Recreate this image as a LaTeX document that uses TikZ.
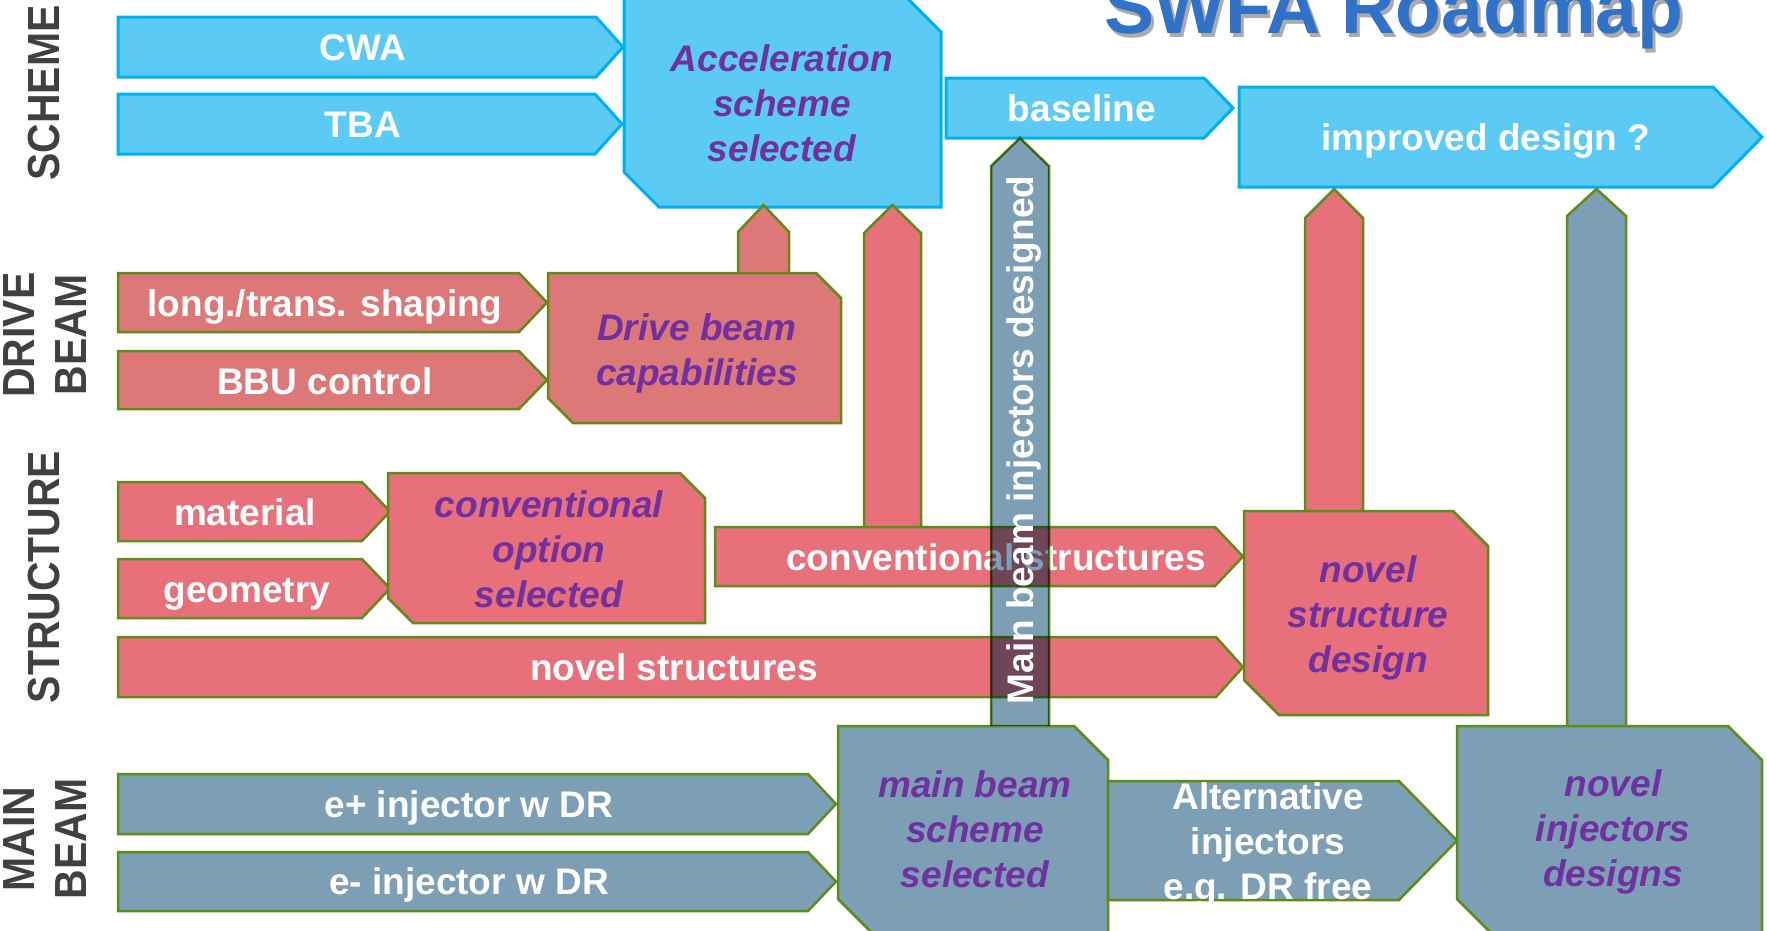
\documentclass[tikz,border=0pt]{standalone}
\usepackage{fontspec}
\setmainfont{Liberation Sans}
\newfontfamily\sidefont[FakeStretch=0.91]{Liberation Sans}
\usetikzlibrary{positioning}
\definecolor{schemefill}{HTML}{5BCBF5}
\definecolor{schemeline}{HTML}{00B0F0}
\definecolor{drivefill}{HTML}{DC7978}
\definecolor{structfill}{HTML}{E8707A}
\definecolor{beamfill}{HTML}{7C9FB6}
\definecolor{edge}{HTML}{5F8C14}
\definecolor{goal}{HTML}{7030A0}
\definecolor{side}{HTML}{404040}
\definecolor{titleblue}{HTML}{2F72C8}

\tikzset{
  schemebox/.style={fill=schemefill, draw=schemeline, line width=3pt},
  drivebox/.style={fill=drivefill, draw=edge, line width=2.5pt},
  structbox/.style={fill=structfill, draw=edge, line width=2.5pt},
  beambox/.style={fill=beamfill, draw=edge, line width=2.5pt},
  task/.style={text=white, font=\bfseries\fontsize{37}{45}\selectfont,
    inner sep=0pt, text height=26pt, text depth=0pt},
  taskml/.style={text=white, font=\bfseries\fontsize{37}{45}\selectfont,
    inner sep=0pt, align=center},
  goaltext/.style={text=goal, font=\bfseries\itshape\fontsize{37}{45}\selectfont,
    inner sep=0pt, align=center},
  sidelabel/.style={text=side, font=\sidefont\bfseries\fontsize{45}{52}\selectfont,
    inner sep=0pt, align=center, rotate=90}
}

% chevron: style, left, top, body right, bottom, tip
\newcommand{\chevron}[6]{\draw[#1] (#2,#3) -- (#4,#3) -- (#6,{(#3+#5)/2}) -- (#4,#5) -- (#2,#5) -- cycle;}
% box with snipped corners: style, left, top, right, bottom, snip
\newcommand{\snipbox}[6]{\draw[#1] (#2,#3) -- ({#4-#6},#3) -- (#4,{#3+#6}) -- (#4,#5) -- ({#2+#6},#5) -- (#2,{#5-#6}) -- cycle;}
% upward block arrow: style, left, right, tip, shoulder, bottom
\newcommand{\upbar}[6]{\draw[#1] (#2,#6) -- (#2,#5) -- ({(#2+#3)/2},#4) -- (#3,#5) -- (#3,#6);}

\begin{document}
\begin{tikzpicture}[x=1pt, y=-1pt]

  \useasboundingbox (0,0) rectangle (1767,930);
  \clip (0,0) rectangle (1767,930);

  % title
  \node[anchor=base west, inner sep=0pt, text=black!55, text opacity=0.6,
    font=\bfseries\fontsize{75}{80}\selectfont] (titleshade) at (1107,37) {SWFA Roadmap};
  \node[anchor=base west, inner sep=0pt, text=titleblue,
    font=\bfseries\fontsize{75}{80}\selectfont] (title) at (1104,33) {SWFA Roadmap};

  \node[sidelabel] (scheme) at (44,93) {SCHEME};
  \node[sidelabel] (drive) at (45,335) {DRIVE\\BEAM};
  \node[sidelabel] (structure) at (44,577) {STRUCTURE};
  \node[sidelabel] (mainbeam) at (45,839) {MAIN\\BEAM};

  % scheme row
  \chevron{schemebox}{118}{17}{596}{77}{623}
  \chevron{schemebox}{118}{94}{595}{154}{622}
  \snipbox{schemebox}{624}{-3}{941}{207}{35}
  \chevron{schemebox}{946}{78}{1204}{138}{1233}
  \chevron{schemebox}{1239}{87}{1713}{187}{1762}

  % feeds into the scheme
  \upbar{drivebox}{738}{789}{205}{232}{273}
  \upbar{structbox}{864}{921}{205}{233}{527}
  \upbar{structbox}{1305}{1363}{189}{218}{511}
  \upbar{beambox}{1567}{1626}{189}{216}{726}

  % drive beam row
  \chevron{drivebox}{118}{273}{519}{332}{547}
  \chevron{drivebox}{118}{351}{519}{409}{547}
  \snipbox{drivebox}{548}{273}{841}{423}{25}

  % structure row
  \chevron{structbox}{118}{482}{362}{541}{390}
  \chevron{structbox}{118}{559}{362}{618}{390}
  \snipbox{structbox}{388}{473}{705}{623}{25}
  \chevron{structbox}{715}{527}{1215}{586}{1243}
  \chevron{structbox}{118}{637}{1216}{697}{1243}
  \snipbox{structbox}{1244}{511}{1488}{715}{35}

  % main beam row
  \chevron{beambox}{118}{774}{808}{834}{836}
  \chevron{beambox}{118}{852}{808}{911}{836}
  \snipbox{beambox}{838}{726}{1108}{933}{34}
  \chevron{beambox}{1108}{781}{1399}{900}{1457}
  \snipbox{beambox}{1457}{726}{1762}{933}{34}

  \node[task] (cwa) at (363,47) {CWA};
  \node[task] (tba) at (363,124) {TBA};
  \node[goaltext] (accel) at (782,103) {Acceleration\\scheme\\selected};
  \node[task] (baseline) at (1082,108) {baseline};
  \node[task] (improved) at (1486,137) {improved design ?};

  \node[task] (shaping) at (325,303) {long./trans. shaping};
  \node[task] (bbu) at (325,381) {BBU control};
  \node[goaltext] (capab) at (697,353) {Drive beam\\capabilities};

  \node[task] (material) at (245,512) {material};
  \node[task] (geometry) at (247,589) {geometry};
  \node[goaltext] (convopt) at (549,549) {conventional\\option\\selected};
  \node[task] (convstruct) at (996,557) {conventional structures};
  \node[task] (novelstruct) at (674,667) {novel structures};
  \node[goaltext] (noveldesign) at (1368,618) {novel\\structure\\design};

  \node[task] (eplus) at (469,804) {e+ injector w DR};
  \node[task] (eminus) at (469,881) {e- injector w DR};
  \node[goaltext] (mbscheme) at (975,829) {main beam\\scheme\\selected};
  \node[taskml] (altinj) at (1268,845) {Alternative\\injectors\\e.g. DR free};
  \node[goaltext] (novelinj) at (1613,832) {novel\\injectors\\designs};

  % main beam injectors, laid over the structure row
  \begin{scope}[blend mode=multiply]
    \upbar{beambox}{991}{1049}{138}{166}{726}
  \end{scope}
  \node[task, rotate=90] (mbinj) at (1020,440) {Main beam injectors designed};

\end{tikzpicture}
\end{document}
